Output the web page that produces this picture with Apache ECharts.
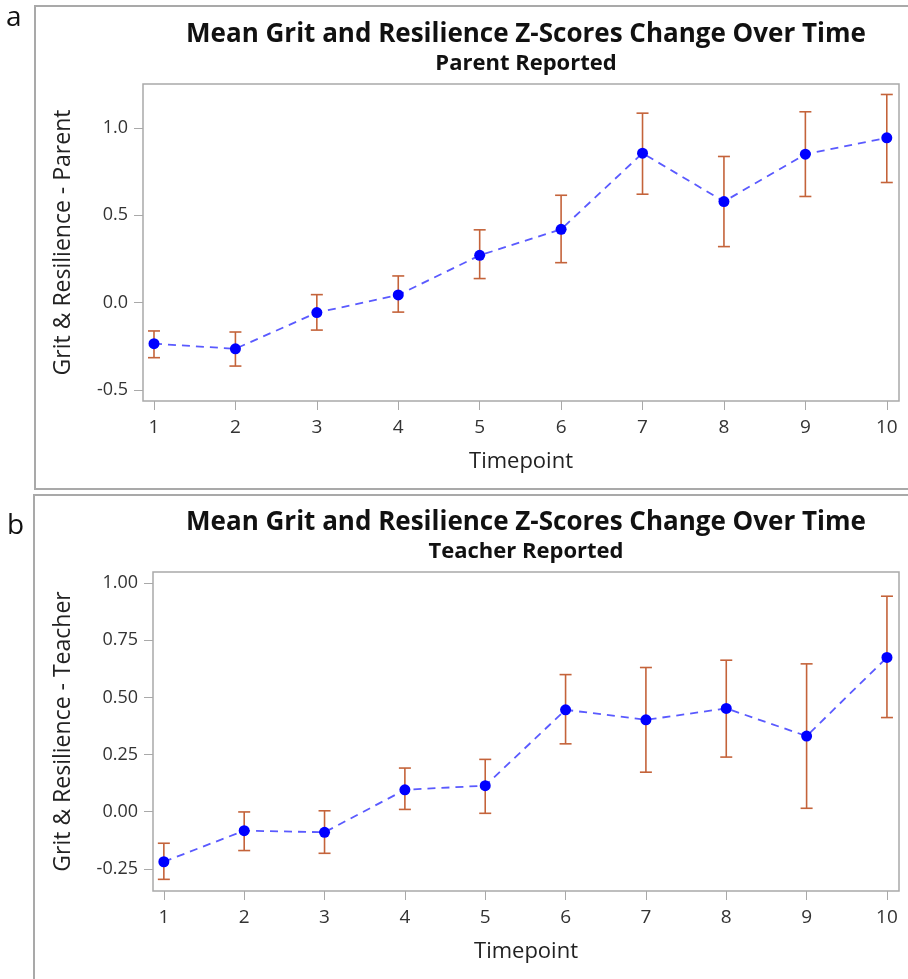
<!DOCTYPE html>
<html>
<head>
<meta charset="utf-8">
<script src="https://cdn.jsdelivr.net/npm/echarts@6/dist/echarts.min.js"></script>
<style>
html,body{margin:0;padding:0;background:#fff;}
#c{width:908px;height:979px;}
</style>
</head>
<body>
<div id="c"></div>
<script>
const timepoints = [1,2,3,4,5,6,7,8,9,10];
const parentMean  = [-0.235,-0.264,-0.057,0.044,0.271,0.420,0.856,0.579,0.850,0.944];
const parentLower = [-0.315,-0.363,-0.157,-0.054,0.138,0.229,0.621,0.321,0.608,0.688];
const parentUpper = [-0.162,-0.168,0.046,0.153,0.417,0.615,1.085,0.837,1.093,1.192];
const teacherMean  = [-0.219,-0.083,-0.090,0.096,0.114,0.446,0.402,0.452,0.331,0.675];
const teacherLower = [-0.296,-0.170,-0.182,0.010,-0.007,0.297,0.173,0.239,0.015,0.412];
const teacherUpper = [-0.138,-0.001,0.004,0.191,0.229,0.600,0.631,0.663,0.647,0.943];
const parentTicks = [-0.5,0,0.5,1.0];
const teacherTicks = [-0.25,0,0.25,0.5,0.75,1.0];
const titleText = 'Mean Grit and Resilience Z-Scores Change Over Time';

const FONT = '"Open Sans", "DejaVu Sans", sans-serif';
const frameColor = '#a9a9a9';
const errColor = '#c4633a';

function errSeries(idx, lower, upper){
  return {
    type:'custom', xAxisIndex:idx, yAxisIndex:idx, z:3,
    data: timepoints.map((t,i)=>[t, lower[i], upper[i]]),
    renderItem:function(params, api){
      const lo = api.coord([api.value(0), api.value(1)]);
      const hi = api.coord([api.value(0), api.value(2)]);
      const w = 6;
      const st = {stroke:errColor, lineWidth:1.6};
      return {type:'group', children:[
        {type:'line', shape:{x1:lo[0],y1:lo[1],x2:hi[0],y2:hi[1]}, style:st},
        {type:'line', shape:{x1:lo[0]-w,y1:lo[1],x2:lo[0]+w,y2:lo[1]}, style:st},
        {type:'line', shape:{x1:hi[0]-w,y1:hi[1],x2:hi[0]+w,y2:hi[1]}, style:st}
      ]};
    }
  };
}
function meanSeries(idx, mean){
  return {
    type:'line', xAxisIndex:idx, yAxisIndex:idx, z:4,
    data: timepoints.map((t,i)=>[t, mean[i]]),
    symbol:'circle', symbolSize:11,
    itemStyle:{color:'#0000ff'},
    lineStyle:{color:'#5a5aff', width:1.8, type:[8,6]},
    animation:false
  };
}
function xAx(gridIndex){
  return {
    type:'value', gridIndex, min:0.865, max:10.15,
    splitLine:{show:false},
    axisLine:{show:false, onZero:false},
    axisTick:{show:true, length:9, lineStyle:{color:frameColor}, customValues:timepoints},
    axisLabel:{customValues:timepoints, fontFamily:FONT, fontSize:19, color:'#333', margin:17},
    name:'Timepoint', nameLocation:'middle', nameGap:50,
    nameTextStyle:{fontFamily:FONT, fontSize:22, color:'#222'}
  };
}
function yAx(gridIndex, min, max, ticks, name, gap, digits){
  return {
    type:'value', gridIndex, min, max,
    splitLine:{show:false},
    axisLine:{show:false, onZero:false},
    axisTick:{show:true, length:9, lineStyle:{color:frameColor}, customValues:ticks},
    axisLabel:{customValues:ticks, fontFamily:FONT, fontSize:18, color:'#333', margin:15,
      formatter:v=>Number(v).toFixed(digits)},
    name, nameLocation:'middle', nameGap:gap,
    nameTextStyle:{fontFamily:FONT, fontSize:23, color:'#222'}
  };
}

const chart = echarts.init(document.getElementById('c'), null, {renderer:'canvas'});
chart.setOption({
  backgroundColor:'#fff',
  animation:false,
  title:[
    {text:titleText, left:521, top:17, textAlign:'center',
      textStyle:{fontFamily:FONT, fontSize:26, fontWeight:'bold', color:'#111'}},
    {text:'Parent Reported', left:521, top:48, textAlign:'center',
      textStyle:{fontFamily:FONT, fontSize:22, fontWeight:'bold', color:'#111'}},
    {text:titleText, left:521, top:505, textAlign:'center',
      textStyle:{fontFamily:FONT, fontSize:26, fontWeight:'bold', color:'#111'}},
    {text:'Teacher Reported', left:521, top:536, textAlign:'center',
      textStyle:{fontFamily:FONT, fontSize:22, fontWeight:'bold', color:'#111'}}
  ],
  grid:[
    {left:143, top:84, width:756, height:317, show:true, borderColor:frameColor, borderWidth:1.5, backgroundColor:'transparent'},
    {left:153, top:572, width:746, height:319, show:true, borderColor:frameColor, borderWidth:1.5, backgroundColor:'transparent'}
  ],
  xAxis:[xAx(0), xAx(1)],
  yAxis:[
    yAx(0, -0.563, 1.252, parentTicks, 'Grit & Resilience - Parent', 68, 1),
    yAx(1, -0.347, 1.049, teacherTicks, 'Grit & Resilience - Teacher', 78, 2)
  ],
  graphic:[
    {type:'rect', shape:{x:35, y:6, width:880, height:483}, style:{fill:'none', stroke:frameColor, lineWidth:2}, z:-1},
    {type:'rect', shape:{x:34, y:495, width:880, height:490}, style:{fill:'none', stroke:frameColor, lineWidth:2}, z:-1},
    {type:'text', left:6, top:4, style:{text:'a', font:'28px "Open Sans", sans-serif', fill:'#111'}},
    {type:'text', left:7, top:512, style:{text:'b', font:'28px "Open Sans", sans-serif', fill:'#111'}}
  ],
  series:[
    errSeries(0, parentLower, parentUpper),
    meanSeries(0, parentMean),
    errSeries(1, teacherLower, teacherUpper),
    meanSeries(1, teacherMean)
  ]
});
</script>
</body>
</html>
